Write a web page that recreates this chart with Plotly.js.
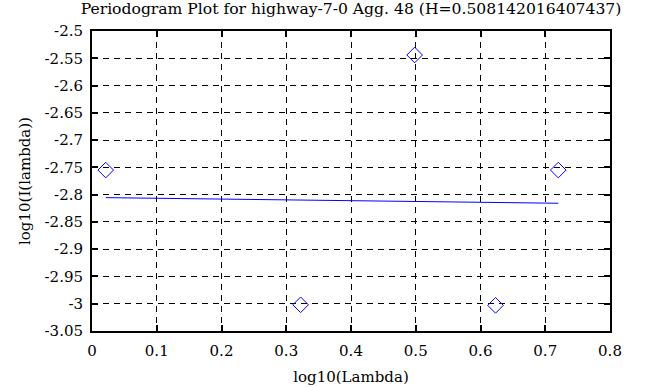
<!DOCTYPE html>
<html>
<head>
<meta charset="utf-8">
<script src="https://cdn.plot.ly/plotly-3.0.1.min.js"></script>
<style>html,body{margin:0;padding:0;background:#fff;}#chart{width:668px;height:387px;}</style>
</head>
<body>
<div id="chart"></div>
<script>
// Periodogram points (log10 frequency, log10 intensity)
const logLambda = [0.0212, 0.3222, 0.4983, 0.6232, 0.7201];
const logI = [-2.755, -3.002, -2.544, -3.003, -2.755];
// Least-squares fit line endpoints
const fitX = [0.0212, 0.7201];
const fitY = [-2.8055, -2.8158];
const xTicks = [0, 0.1, 0.2, 0.3, 0.4, 0.5, 0.6, 0.7, 0.8];
const yTicks = [-3.05, -3, -2.95, -2.9, -2.85, -2.8, -2.75, -2.7, -2.65, -2.6, -2.55, -2.5];

const font = {family: '"DejaVu Serif", "Liberation Serif", serif', size: 15, color: '#000'};
const titleFont = {family: '"DejaVu Serif", "Liberation Serif", serif', size: 15.6, color: '#000'};

const traces = [
  {x: fitX, y: fitY, mode: 'lines', line: {color: '#0000ff', width: 1}, hoverinfo: 'skip'},
  {x: logLambda, y: logI, mode: 'markers',
   marker: {symbol: 'diamond-open', size: 12, color: '#0000ff', line: {width: 1, color: '#0000ff'}}}
];

const axisCommon = {
  showline: true, linecolor: '#000', linewidth: 2, mirror: 'ticks',
  ticks: 'inside', ticklen: 6, tickwidth: 2, tickcolor: '#000',
  showgrid: true, gridcolor: '#000', gridwidth: 1, griddash: '6px,5px',
  zeroline: false, tickfont: font
};

const layout = {
  width: 668, height: 387,
  margin: {l: 92, r: 58, t: 31, b: 56},
  paper_bgcolor: '#fff', plot_bgcolor: '#fff',
  showlegend: false,
  font: font,
  title: {text: 'Periodogram Plot for highway-7-0 Agg. 48 (H=0.508142016407437)',
          font: titleFont, x: 0.5, xref: 'paper', y: 1 - 9/387, yref: 'container', yanchor: 'middle'},
  xaxis: Object.assign({}, axisCommon, {
    range: [0, 0.8], tickvals: xTicks, ticktext: xTicks.map(String), ticklabelstandoff: 5,
    title: {text: 'log10(Lambda)', font: font, standoff: 12}
  }),
  yaxis: Object.assign({}, axisCommon, {
    range: [-3.05, -2.5], tickvals: yTicks, ticktext: yTicks.map(String), ticklabelstandoff: 4,
    title: {text: 'log10(I(lambda))', font: font, standoff: 10}
  })
};

Plotly.newPlot('chart', traces, layout, {displayModeBar: false, staticPlot: true});
</script>
</body>
</html>
